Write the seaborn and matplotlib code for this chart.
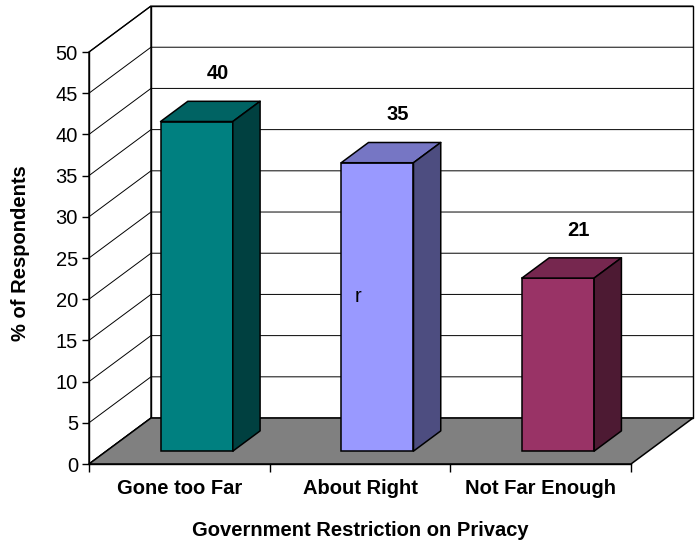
import matplotlib
matplotlib.use("Agg")
import matplotlib.pyplot as plt
from matplotlib.patches import Polygon, Rectangle
from matplotlib.transforms import Affine2D
import pandas as pd
import seaborn as sns

# Survey results
categories = ["Gone too Far", "About Right", "Not Far Enough"]
percent = [40, 35, 21]
y_ticks = list(range(0, 55, 5))

# Face colours of the 3-D columns (front / top / side)
front_colors = ["#008080", "#9999FF", "#993366"]
top_colors = ["#006363", "#7676C4", "#76274F"]
side_colors = ["#004040", "#4D4D80", "#4D1A33"]
floor_color = "#808080"

# Oblique projection: one full unit of depth moves a point this far in data units
DEPTH = (0.343, 5.58)
BAR_FRONT, BAR_BACK = 0.28, 0.72
FS = 14.5


def at_depth(x, y, t):
    return (x + t * DEPTH[0], y + t * DEPTH[1])


sns.set_theme(style="white")
plt.rcParams["font.family"] = ["Liberation Sans", "DejaVu Sans"]
plt.rcParams["text.color"] = "black"

W, H = 699, 543
fig = plt.figure(figsize=(W / 100, H / 100), dpi=100)
ax = fig.add_axes([89 / W, (H - 464) / H, (631 - 89) / W, (464 - 52) / H])
ax.patch.set_visible(False)

df = pd.DataFrame({"category": categories, "percent": percent})
sns.barplot(data=df, x="category", y="percent", hue="category",
            palette=front_colors, width=0.4, saturation=1, legend=False,
            edgecolor="black", linewidth=1.1, ax=ax, zorder=3)
bars = sorted([p for p in ax.patches if isinstance(p, Rectangle)],
              key=lambda p: p.get_x())

ax.set_xlim(-0.5, 2.5)
ax.set_ylim(0, 50)
x0, x1 = -0.5, 2.5
ymax = 50

# Walls and floor
back = Polygon([at_depth(x0, 0, 1), at_depth(x1, 0, 1),
                at_depth(x1, ymax, 1), at_depth(x0, ymax, 1)],
               closed=True, fc="white", ec="black", lw=1.0,
               clip_on=False, zorder=0.2)
side = Polygon([(x0, 0), (x0, ymax), at_depth(x0, ymax, 1), at_depth(x0, 0, 1)],
               closed=True, fc="white", ec="black", lw=1.0,
               clip_on=False, zorder=0.2)
ax.add_patch(back)
ax.add_patch(side)
for v in y_ticks:
    a = at_depth(x0, v, 1)
    b = at_depth(x1, v, 1)
    ax.plot([x0, a[0], b[0]], [v, a[1], b[1]], color="black", lw=0.7,
            clip_on=False, zorder=0.3)
floor = Polygon([(x0, 0), (x1, 0), at_depth(x1, 0, 1), at_depth(x0, 0, 1)],
                closed=True, fc=floor_color, ec="black", lw=1.1,
                clip_on=False, zorder=0.5)
ax.add_patch(floor)

# Columns: push the front faces into the depth, then add top and side faces
shift = Affine2D().translate(BAR_FRONT * DEPTH[0], BAR_FRONT * DEPTH[1]) + ax.transData
for i, bar in enumerate(bars):
    bar.set_transform(shift)
    bar.set_clip_on(False)
    bx0 = bar.get_x()
    bx1 = bx0 + bar.get_width()
    h = bar.get_height()
    top = Polygon([at_depth(bx0, h, BAR_FRONT), at_depth(bx1, h, BAR_FRONT),
                   at_depth(bx1, h, BAR_BACK), at_depth(bx0, h, BAR_BACK)],
                  closed=True, fc=top_colors[i], ec="black", lw=1.1,
                  joinstyle="round", clip_on=False, zorder=3)
    sd = Polygon([at_depth(bx1, 0, BAR_FRONT), at_depth(bx1, h, BAR_FRONT),
                  at_depth(bx1, h, BAR_BACK), at_depth(bx1, 0, BAR_BACK)],
                 closed=True, fc=side_colors[i], ec="black", lw=1.1,
                 joinstyle="round", clip_on=False, zorder=3)
    ax.add_patch(top)
    ax.add_patch(sd)
    lx, ly = at_depth(bx0 + bar.get_width() / 2, h, 0.5)
    ax.text(lx + 0.04, ly + 4.6, f"{percent[i]}", ha="center", va="center",
            fontsize=FS, fontweight="bold", color="black", zorder=5)

ax.text(0.99, 20.3, "r", ha="center", va="center", fontsize=FS,
        color="black", zorder=5)

# Axes styling
for s in ("top", "right"):
    ax.spines[s].set_visible(False)
for s in ("left", "bottom"):
    ax.spines[s].set_color("black")
    ax.spines[s].set_linewidth(1.0)
    ax.spines[s].set_zorder(0.6)

ax.set_yticks(y_ticks)
ax.tick_params(axis="y", left=True, direction="out", length=5, width=1,
               color="black", labelsize=FS, pad=3, labelcolor="black")
ax.set_xticks(range(len(categories)))
ax.set_xticklabels(categories, fontweight="bold")
ax.set_xticks([-0.5, 0.5, 1.5, 2.5], minor=True)
ax.tick_params(axis="x", which="major", bottom=True, length=0, labelsize=FS,
               pad=11, labelcolor="black")
ax.tick_params(axis="x", which="minor", bottom=True, direction="out", length=6,
               width=1, color="black")
ax.set_xlabel("")
ax.set_ylabel("")
ax.grid(False)

fig.text(21 / W, 1 - 253 / H, "% of Respondents", rotation=90, ha="center",
         va="center", fontsize=FS, fontweight="bold", color="black")
fig.text(360 / W, 1 - 530 / H, "Government Restriction on Privacy", ha="center",
         va="center", fontsize=FS, fontweight="bold", color="black")

fig.savefig("out.png", dpi=100, facecolor="white")
